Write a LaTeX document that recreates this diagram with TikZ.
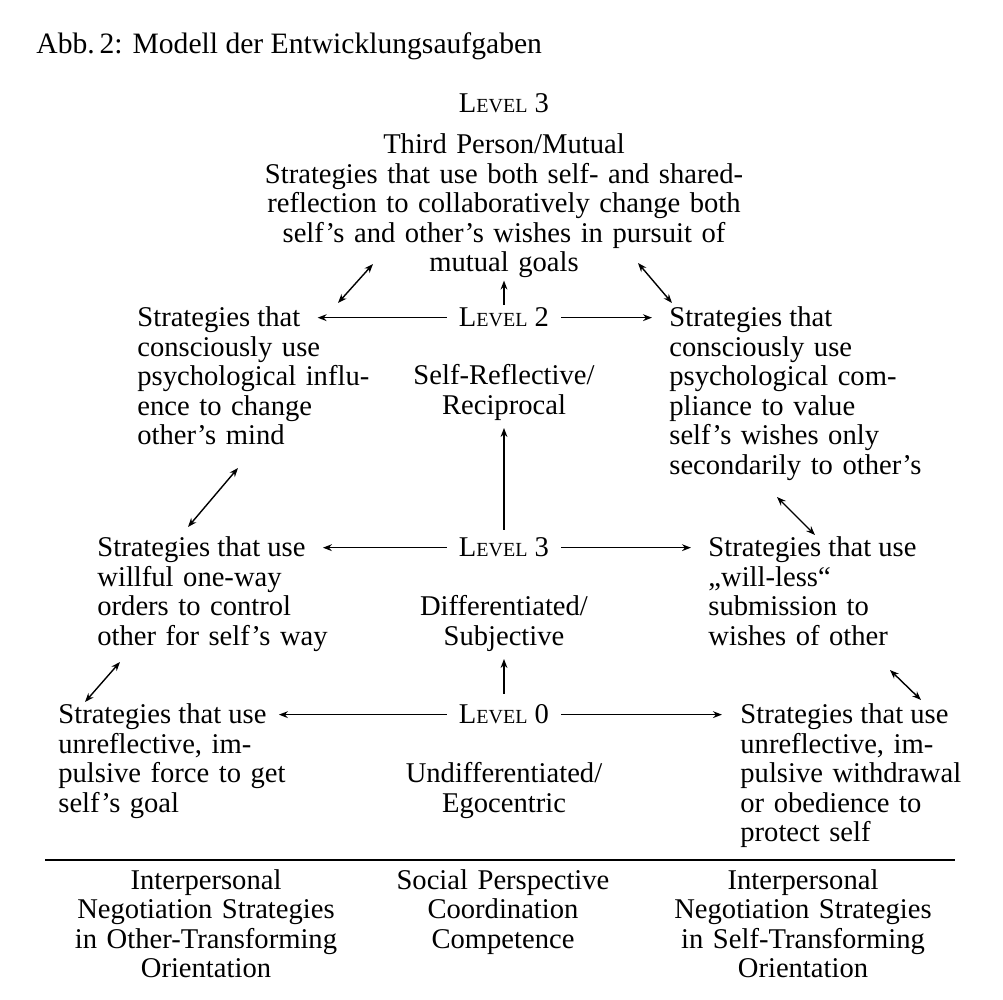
\documentclass[tikz,border=0pt]{standalone}
\usepackage{fontspec}
\setmainfont{Liberation Serif}
\usetikzlibrary{arrows.meta}

% small-caps level label
\newcommand{\lv}[1]{L{\fontsize{10}{10}\selectfont EVEL} #1}

\begin{document}
\begin{tikzpicture}[x=0.5pt,y=-0.5pt,font=\fontsize{14.3}{14.75}\selectfont,
  every node/.style={inner sep=0pt},
  lvl/.style={anchor=base,inner xsep=6pt},
  hd/.style={anchor=base west},
  blk/.style={anchor=base west,align=left,text width=150pt},
  mid/.style={anchor=base,align=center,text width=240pt},
  arr/.style={-{Stealth[length=4.5pt,width=3.4pt]},line width=0.7pt},
  dbl/.style={{Stealth[length=4.5pt,width=3.4pt]}-{Stealth[length=4.5pt,width=3.4pt]},line width=0.7pt}]
  \useasboundingbox (0,0) rectangle (1003,1000);
  \fill[white] (0,0) rectangle (1003,1000);

  \node[hd,font=\fontsize{14.8}{15}\selectfont] (title) at (36,54) {Abb.\,2: Modell der Entwicklungsaufgaben};

  % top level
  \node[lvl] (lvtop) at (504,113) {\lv{3}};
  \node[mid] (mutual) at (504,154) {Third Person/Mutual\\Strategies that use both self- and shared-\\reflection to collaboratively change both\\self’s and other’s wishes in pursuit of\\mutual goals};

  % level 2 row
  \node[lvl] (lvtwo) at (504,327) {\lv{2}};
  \node[mid] (recip) at (504,385) {Self-Reflective/\\Reciprocal};
  \node[hd] (ltwoa) at (137,327) {Strategies that};
  \node[blk] (ltwob) at ([yshift=-14.75pt]ltwoa.base west) {consciously use\\psychological influ-\\ence to change\\other’s mind};
  \node[hd] (rtwoa) at (669,327) {Strategies that};
  \node[blk] (rtwob) at ([yshift=-14.75pt]rtwoa.base west) {consciously use\\psychological com-\\pliance to value\\self’s wishes only\\secondarily to other’s};

  % middle row
  \node[lvl] (lvmid) at (504,557) {\lv{3}};
  \node[mid] (subj) at (504,616) {Differentiated/\\Subjective};
  \node[hd] (lmida) at (97,557) {Strategies that use};
  \node[blk] (lmidb) at ([yshift=-14.75pt]lmida.base west) {willful one-way\\orders to control\\other for self’s way};
  \node[hd] (rmida) at (708,557) {Strategies that use};
  \node[blk] (rmidb) at ([yshift=-14.75pt]rmida.base west) {„will-less“\\submission to\\wishes of other};

  % level 0 row
  \node[lvl] (lvzero) at (504,724) {\lv{0}};
  \node[mid] (ego) at (504,783) {Undifferentiated/\\Egocentric};
  \node[hd] (lzeroa) at (58,724) {Strategies that use};
  \node[blk] (lzerob) at ([yshift=-14.75pt]lzeroa.base west) {unreflective, im-\\pulsive force to get\\self’s goal};
  \node[hd] (rzeroa) at (740,724) {Strategies that use};
  \node[blk] (rzerob) at ([yshift=-14.75pt]rzeroa.base west) {unreflective, im-\\pulsive withdrawal\\or obedience to\\protect self};

  % horizontal arrows
  \draw[arr,shorten >=8.5pt] (lvtwo.west) -- (lvtwo.west -| ltwoa.east);
  \draw[arr,shorten >=8.5pt] (lvtwo.east) -- (lvtwo.east -| rtwoa.west);
  \draw[arr,shorten >=8.5pt] (lvmid.west) -- (lvmid.west -| lmida.east);
  \draw[arr,shorten >=8.5pt] (lvmid.east) -- (lvmid.east -| rmida.west);
  \draw[arr,shorten >=6pt] (lvzero.west) -- (lvzero.west -| lzeroa.east);
  \draw[arr,shorten >=9pt] (lvzero.east) -- (lvzero.east -| rzeroa.west);

  % vertical arrows
  \draw[arr,shorten <=1.5pt,shorten >=1pt] (lvtwo) -- (mutual);
  \draw[arr,shorten <=4pt,shorten >=3.5pt] (lvmid) -- (recip);
  \draw[arr,shorten <=5.5pt,shorten >=3.5pt] (lvzero) -- (subj);

  % diagonal links
  \coordinate (dgA) at (338,303); \coordinate (dgB) at (373,264);
  \coordinate (dgC) at (638,263); \coordinate (dgD) at (672,303);
  \coordinate (dgE) at (188,527); \coordinate (dgF) at (238,468);
  \coordinate (dgG) at (777,497); \coordinate (dgH) at (815,535);
  \coordinate (dgI) at (85,702);  \coordinate (dgJ) at (120,662);
  \coordinate (dgK) at (890,670); \coordinate (dgL) at (921,700);
  \draw[dbl] (dgA) -- (dgB);
  \draw[dbl] (dgC) -- (dgD);
  \draw[dbl] (dgE) -- (dgF);
  \draw[dbl] (dgG) -- (dgH);
  \draw[dbl] (dgI) -- (dgJ);
  \draw[dbl] (dgK) -- (dgL);

  % rule and column heads
  \coordinate (ruleL) at (45,860); \coordinate (ruleR) at (955,860);
  \draw[line width=1pt] (ruleL) -- (ruleR);
  \node[mid] (colL) at (206,889) {Interpersonal\\Negotiation Strategies\\in Other-Transforming\\Orientation};
  \node[mid] (colM) at (503,889) {Social Perspective\\Coordination\\Competence};
  \node[mid] (colR) at (803,889) {Interpersonal\\Negotiation Strategies\\in Self-Transforming\\Orientation};
\end{tikzpicture}
\end{document}
